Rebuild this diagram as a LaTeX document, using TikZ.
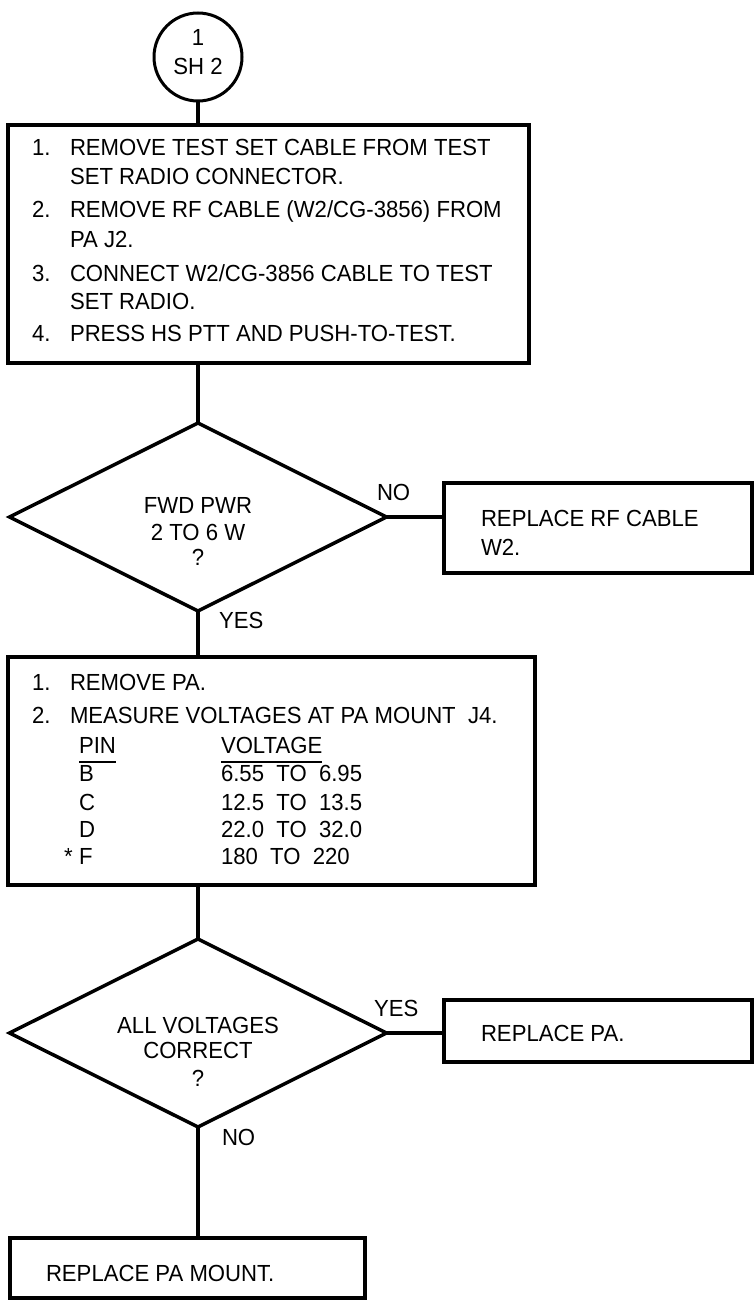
\documentclass[tikz,border=0pt]{standalone}
\usepackage{fontspec}
\setmainfont{Liberation Sans}
\newfontfamily\dfont{Liberation Sans}[FakeStretch=0.95]
\usetikzlibrary{shapes.geometric}
\begin{document}
\begin{tikzpicture}[x=1pt,y=-1pt,
  box/.style={draw, line width=3.5pt, rectangle, outer sep=0pt, inner sep=0pt, anchor=north west},
  dia/.style={draw, line width=3.5pt, diamond, outer sep=0pt, inner sep=0pt, minimum width=377pt, minimum height=188pt},
  conn/.style={line width=4.5pt},
  txt/.style={inner sep=0pt, outer sep=0pt, anchor=base west, font=\dfont\fontsize{23.3}{27}\selectfont},
  ctxt/.style={txt, anchor=base},
  uline/.style={line width=2pt}]
\useasboundingbox (0,0) rectangle (755,1300);

% connector circle
\node[draw, circle, line width=3pt, outer sep=0pt, inner sep=0pt, minimum size=88pt] (c) at (198,57) {};
\node[ctxt] (c1) at (198,46) {1};
\node[ctxt] (c2) at (198,75) {SH 2};

% box 1
\node[box, minimum width=521pt, minimum height=238pt] (b1) at (8,125) {};
\node[txt] (b1n1) at (32,156) {1.};
\node[txt] (b1l1) at (70,156) {REMOVE TEST SET CABLE FROM TEST};
\node[txt] (b1l2) at (70,185) {SET RADIO CONNECTOR.};
\node[txt] (b1n2) at (32,218) {2.};
\node[txt] (b1l3) at (70,218) {REMOVE RF CABLE (W2/CG-3856) FROM};
\node[txt] (b1l4) at (70,247) {PA J2.};
\node[txt] (b1n3) at (32,281) {3.};
\node[txt] (b1l5) at (70,281) {CONNECT W2/CG-3856 CABLE TO TEST};
\node[txt] (b1l6) at (70,309) {SET RADIO.};
\node[txt] (b1n4) at (32,341) {4.};
\node[txt] (b1l7) at (70,341) {PRESS HS PTT AND PUSH-TO-TEST.};

% diamond 1
\node[dia] (d1) at (198,517) {};
\node[ctxt] (d1a) at (198,513) {FWD PWR};
\node[ctxt] (d1b) at (198,540) {2 TO 6 W};
\node[ctxt] (d1c) at (198,565) {?};
\node[txt] (no1) at (377,500) {NO};
\node[txt] (yes1) at (219,628) {YES};

% right box 1
\node[box, minimum width=308pt, minimum height=90pt] (r1) at (444,483) {};
\node[txt] (r1a) at (481,526) {REPLACE RF CABLE};
\node[txt] (r1b) at (481,555) {W2.};

% box 2
\node[box, minimum width=527pt, minimum height=228pt] (b2) at (8,657) {};
\node[txt] (b2n1) at (32,690) {1.};
\node[txt] (b2l1) at (70,690) {REMOVE PA.};
\node[txt] (b2n2) at (32,723) {2.};
\node[txt] (b2l2) at (70,723) {MEASURE VOLTAGES AT PA MOUNT\ \ J4.};
\node[txt] (pin) at (79,753) {PIN};
\node[txt] (volt) at (221,753) {VOLTAGE};
\draw[uline] ([yshift=-9pt]pin.base west) -- ([yshift=-9pt]pin.base east);
\draw[uline] ([yshift=-9pt]volt.base west) -- ([yshift=-9pt]volt.base east);
\node[txt] (pb) at (79,781) {B};
\node[txt] (vb) at (221,781) {6.55\ \ TO\ \ 6.95};
\node[txt] (pc) at (79,810) {C};
\node[txt] (vc) at (221,810) {12.5\ \ TO\ \ 13.5};
\node[txt] (pd) at (79,837) {D};
\node[txt] (vd) at (221,837) {22.0\ \ TO\ \ 32.0};
\node[txt] (star) at (64,864) {*};
\node[txt] (pf) at (79,864) {F};
\node[txt] (vf) at (221,864) {180\ \ TO\ \ 220};

% diamond 2
\node[dia] (d2) at (198,1033) {};
\node[ctxt] (d2a) at (198,1033) {ALL VOLTAGES};
\node[ctxt] (d2b) at (198,1058) {CORRECT};
\node[ctxt] (d2c) at (198,1086) {?};
\node[txt] (yes2) at (374,1016) {YES};
\node[txt] (no2) at (222,1145) {NO};

% right box 2
\node[box, minimum width=308pt, minimum height=62pt] (r2) at (444,1000) {};
\node[txt] (r2a) at (481,1041) {REPLACE PA.};

% box 3
\node[box, minimum width=355pt, minimum height=60pt] (b3) at (10,1238) {};
\node[txt] (b3a) at (46,1281) {REPLACE PA MOUNT.};

% connectors
\draw[conn] (c.south) -- (c.south |- b1.north);
\draw[conn] (d1.north |- b1.south) -- (d1.north);
\draw[conn] (d1.east) -- (d1.east -| r1.west);
\draw[conn] (d1.south) -- (d1.south |- b2.north);
\draw[conn] (d2.north |- b2.south) -- (d2.north);
\draw[conn] (d2.east) -- (d2.east -| r2.west);
\draw[conn] (d2.south) -- (d2.south |- b3.north);
\end{tikzpicture}
\end{document}
